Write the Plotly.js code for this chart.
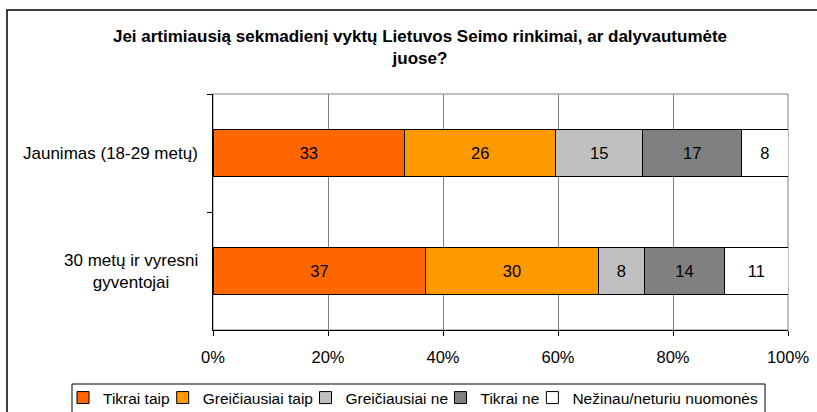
<!DOCTYPE html>
<html>
<head>
<meta charset="utf-8">
<script src="https://cdn.plot.ly/plotly-3.0.1.min.js"></script>
<style>
html, body { margin: 0; padding: 0; background: #fff; }
#chart { width: 817px; height: 412px; }
</style>
</head>
<body>
<div id="chart"></div>
<script>
// ---- Data ----
const categories = ['Jaunimas (18-29 metų)', '30 metų ir vyresni<br>gyventojai'];
const seriesNames = ['Tikrai taip', 'Greičiausiai taip', 'Greičiausiai ne', 'Tikrai ne', 'Nežinau/neturiu nuomonės'];
const tikraiTaip = [33, 37];
const greiciausiaiTaip = [26, 30];
const greiciausiaiNe = [15, 8];
const tikraiNe = [17, 14];
const nezinau = [8, 11];
const xTickValues = [0, 20, 40, 60, 80, 100];
const xTickLabels = ['0%', '20%', '40%', '60%', '80%', '100%'];

// ---- Styles ----
const seriesValues = [tikraiTaip, greiciausiaiTaip, greiciausiaiNe, tikraiNe, nezinau];
const colors = ['#FF6600', '#FF9900', '#C0C0C0', '#808080', '#FFFFFF'];
const FONT = 'Arial, "Liberation Sans", sans-serif';
const FS = 16.5;
const LEG_FS = 15.5;

// plot area in pixels: left 213, right 788, top 94, bottom 330
const L = 213, R = 788, T = 94, B = 330;
const W = R - L, H = B - T;
const px = v => (v - L) / W;
const py = v => (B - v) / H;

// left edges (px) of each legend entry box
const legendLeftX = [63, 162.7, 305.5, 440.5, 532.4];
const legendIds = ['legend', 'legend2', 'legend3', 'legend4', 'legend5'];

const traces = seriesNames.map((name, i) => ({
  type: 'bar',
  orientation: 'h',
  name: name,
  legend: legendIds[i],
  y: categories,
  x: seriesValues[i],
  text: seriesValues[i].map(String),
  texttemplate: '%{text}',
  textposition: 'inside',
  insidetextanchor: 'middle',
  constraintext: 'none',
  textfont: { family: FONT, size: FS, color: '#000' },
  insidetextfont: { family: FONT, size: FS, color: '#000' },
  marker: { color: colors[i], line: { color: '#000', width: 1 } },
  hoverinfo: 'name+x'
}));

const annotations = categories.map(c => ({
  xref: 'paper', yref: 'y',
  x: px(200), y: c,
  xanchor: 'right', yanchor: 'middle',
  align: 'center',
  text: c,
  showarrow: false,
  font: { family: FONT, size: 17, color: '#000' }
}));

const layout = {
  width: 817, height: 412,
  margin: { l: L, r: 817 - R, t: T, b: 412 - B, pad: 0, autoexpand: false },
  paper_bgcolor: '#fff',
  plot_bgcolor: '#fff',
  font: { family: FONT, size: FS, color: '#000' },
  barmode: 'stack',
  barnorm: 'percent',
  bargap: 0.6,
  showlegend: true,
  title: {
    text: '<b>Jei artimiausią sekmadienį vyktų Lietuvos Seimo rinkimai, ar dalyvautumėte<br>juose?</b>',
    font: { family: FONT, size: 17, color: '#000' },
    xref: 'container', yref: 'container',
    x: 420 / 817, xanchor: 'center',
    y: 1 - 42 / 412, yanchor: 'top'
  },
  xaxis: {
    range: [0, 100],
    tickmode: 'array',
    tickvals: xTickValues,
    ticktext: xTickLabels,
    ticks: 'outside', ticklen: 5, tickcolor: '#000', tickwidth: 1,
    ticklabelstandoff: 7,
    showline: true, linecolor: '#000', linewidth: 1,
    showgrid: true, gridcolor: '#808080', gridwidth: 1,
    zeroline: false,
    tickfont: { family: FONT, size: FS, color: '#000' },
    fixedrange: true
  },
  yaxis: {
    type: 'category',
    autorange: 'reversed',
    showticklabels: false,
    ticks: 'outside', ticklen: 5, tickcolor: '#000', tickwidth: 1,
    tickson: 'boundaries',
    showline: true, linecolor: '#000', linewidth: 1,
    showgrid: false, zeroline: false,
    fixedrange: true
  },
  annotations: annotations,
  shapes: [
    { type: 'rect', xref: 'paper', yref: 'paper', x0: 0, x1: 1, y0: 0, y1: 1,
      line: { color: '#808080', width: 1 }, layer: 'below' },
    { type: 'rect', xref: 'paper', yref: 'paper',
      x0: px(7), x1: px(840), y0: py(430), y1: py(10),
      line: { color: '#000', width: 1.5 }, layer: 'below' },
    { type: 'rect', xref: 'paper', yref: 'paper',
      x0: px(72), x1: px(765), y0: py(425), y1: py(384),
      line: { color: '#000', width: 1 }, layer: 'below' }
  ]
};

legendIds.forEach((id, i) => {
  layout[id] = {
    orientation: 'h',
    x: px(legendLeftX[i]), xanchor: 'left',
    y: py(398), yanchor: 'middle',
    borderwidth: 0,
    bgcolor: 'rgba(0,0,0,0)',
    font: { family: FONT, size: LEG_FS, color: '#000' },
    itemwidth: 30
  };
});

Plotly.newPlot('chart', traces, layout, { displayModeBar: false, staticPlot: true });
</script>
</body>
</html>
